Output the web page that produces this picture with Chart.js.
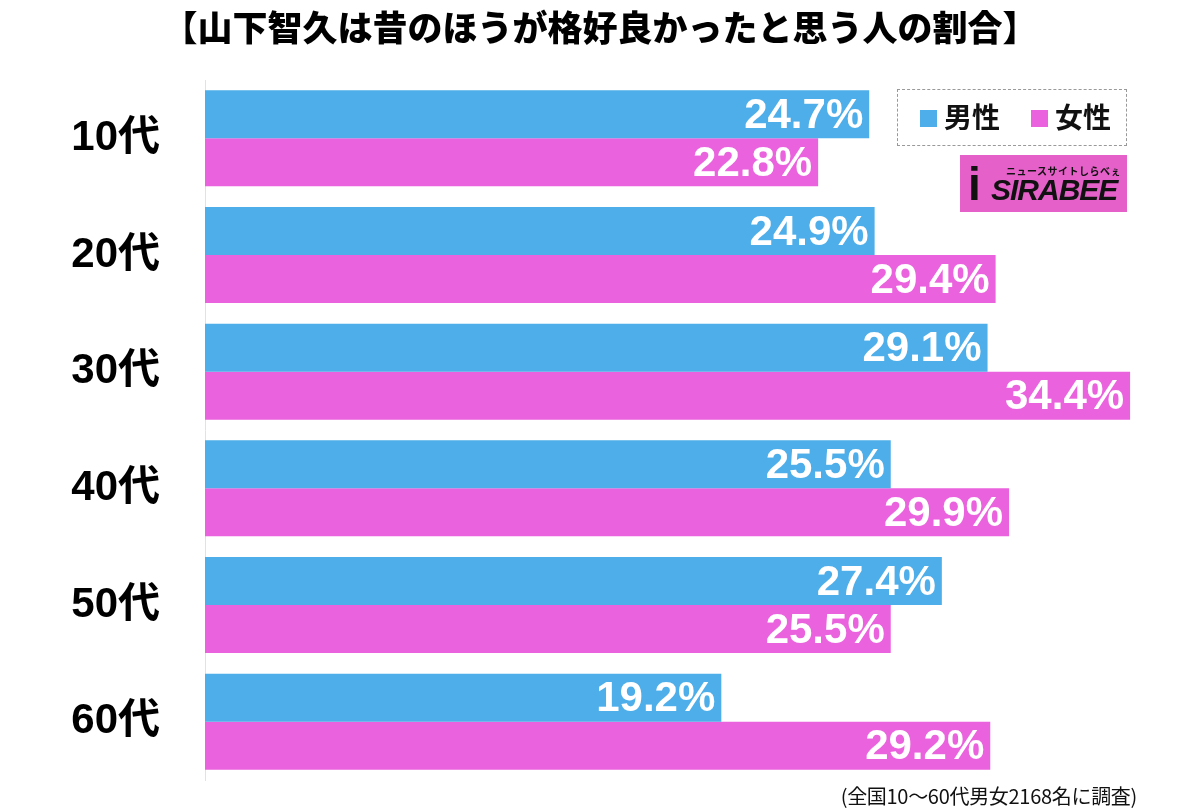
<!DOCTYPE html>
<html>
<head>
<meta charset="utf-8">
<script src="https://cdn.jsdelivr.net/npm/chart.js@4.4.1/dist/chart.umd.min.js"></script>
<style>
  html, body { margin: 0; padding: 0; background: #fff; }
  #wrap { position: relative; width: 1200px; height: 812px; }
  #legend-box {
    position: absolute; left: 897px; top: 89px; width: 228px; height: 55px;
    border: 1px dashed #999; font-family: "Noto Sans CJK JP", sans-serif;
    font-weight: 700; font-size: 28px; color: #111;
  }
  #legend-box .sw { position: absolute; top: 20px; width: 17px; height: 17px; }
  #legend-box .tx { position: absolute; top: 6px; line-height: 40px; }
  #logo {
    position: absolute; left: 960px; top: 155px; width: 167px; height: 57px;
    background: #e660c9; overflow: hidden;
  }
  #logo .small { position: absolute; left: 46px; top: 8px; font-size: 10px; font-weight: 700;
    font-family: "Noto Sans CJK JP", sans-serif; color: #111; letter-spacing: 0.5px; }
  #logo .big { position: absolute; left: 31px; top: 18px; font-size: 30px; font-weight: 900;
    font-style: italic; font-family: "Liberation Sans", sans-serif; color: #111; letter-spacing: -1px; }
  #logo .i { position: absolute; left: 8px; top: 2px; font-size: 46px; font-weight: 900;
    font-family: "Liberation Sans", sans-serif; color: #111; }
  #note {
    position: absolute; right: 63px; top: 781px; font-size: 20px;
    font-family: "Noto Sans CJK JP", sans-serif; color: #111; letter-spacing: -0.3px;
  }
</style>
</head>
<body>
<div id="wrap">
  <canvas id="chart" width="1200" height="812"></canvas>
  <div id="legend-box">
    <div class="sw" style="left:22px;background:#4daee9"></div>
    <div class="tx" style="left:46px">男性</div>
    <div class="sw" style="left:133px;background:#ea62dd"></div>
    <div class="tx" style="left:157px">女性</div>
  </div>
  <div id="logo">
    <div class="i">i</div>
    <div class="small">ニュースサイトしらべぇ</div>
    <div class="big">SIRABEE</div>
  </div>
  <div id="note">(全国10〜60代男女2168名に調査)</div>
</div>
<script>
// data
const ageGroups = ["10代", "20代", "30代", "40代", "50代", "60代"];
const maleValues = [24.7, 24.9, 29.1, 25.5, 27.4, 19.2];
const femaleValues = [22.8, 29.4, 34.4, 29.9, 25.5, 29.2];
const seriesNames = ["男性", "女性"];
const titleText = "【山下智久は昔のほうが格好良かったと思う人の割合】";

const blue = "#4daee9";
const pink = "#ea62dd";

// white value label at the end of each bar
const valueLabels = {
  id: "valueLabels",
  afterDatasetsDraw(chart) {
    const ctx = chart.ctx;
    ctx.save();
    ctx.fillStyle = "#fff";
    ctx.font = "bold 42px 'Liberation Sans', sans-serif";
    ctx.textAlign = "right";
    ctx.textBaseline = "middle";
    chart.data.datasets.forEach(function (ds, i) {
      chart.getDatasetMeta(i).data.forEach(function (bar, j) {
        ctx.fillText(ds.data[j].toFixed(1) + "%", bar.x - 6, bar.y + 2);
      });
    });
    ctx.restore();
  },
};

new Chart(document.getElementById("chart"), {
  type: "bar",
  data: {
    labels: ageGroups,
    datasets: [
      { label: seriesNames[0], data: maleValues, backgroundColor: blue },
      { label: seriesNames[1], data: femaleValues, backgroundColor: pink },
    ],
  },
  options: {
    indexAxis: "y",
    responsive: false,
    animation: false,
    categoryPercentage: 0.823,
    barPercentage: 1.0,
    layout: { padding: { left: 0, right: 0, bottom: 32 } },
    plugins: {
      legend: { display: false },
      tooltip: { enabled: false },
      title: {
        display: true,
        text: titleText,
        color: "#000",
        font: { family: "'Noto Sans CJK JP', sans-serif", size: 35, weight: "900" },
        padding: { top: 7, bottom: 31 },
      },
    },
    scales: {
      x: { display: false, min: 0, max: 37 },
      y: {
        grid: { display: false, drawTicks: false },
        border: { display: true, color: "#e2e2e2", width: 1 },
        ticks: {
          color: "#000",
          padding: 45,
          font: { family: "'Liberation Sans', 'Noto Sans CJK JP', sans-serif", size: 42, weight: "bold" },
        },
        afterFit: function (scale) {
          scale.width = 205;
          scale.paddingTop = 0;
          scale.paddingBottom = 0;
        },
      },
    },
  },
  plugins: [valueLabels],
});
</script>
</body>
</html>
